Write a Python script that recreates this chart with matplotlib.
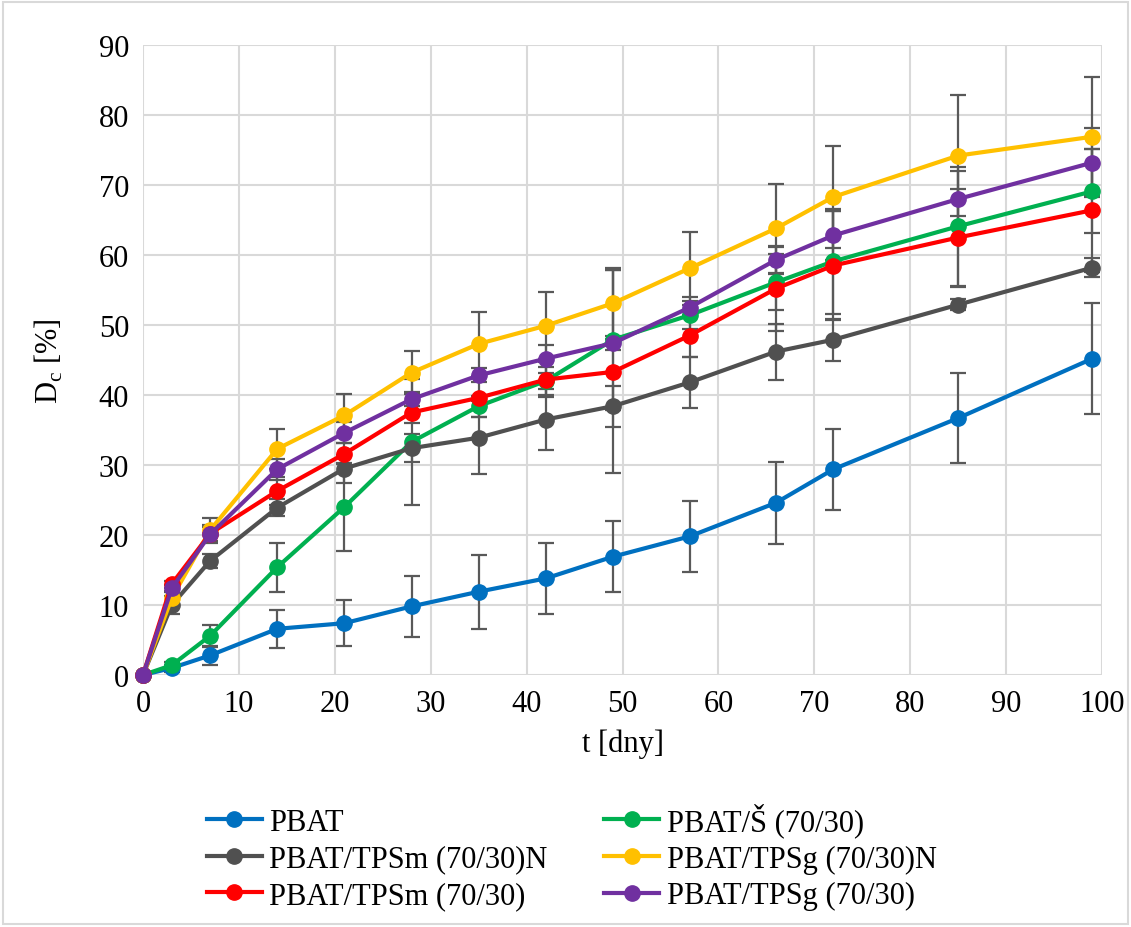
import matplotlib.pyplot as plt

plt.rcParams['font.family'] = ['Liberation Serif', 'DejaVu Serif']

# time [days]
t = [0, 3, 7, 14, 21, 28, 35, 42, 49, 57, 66, 72, 85, 99]

labels = ["PBAT", "PBAT/Š (70/30)", "PBAT/TPSm (70/30)N",
          "PBAT/TPSg (70/30)N", "PBAT/TPSm (70/30)", "PBAT/TPSg (70/30)"]
colors = ["#0070c0", "#00b050", "#505050", "#ffc000", "#ff0000", "#7030a0"]

pbat = [0, 1.0, 2.8, 6.6, 7.4, 9.8, 11.9, 13.8, 16.9, 19.8, 24.6, 29.4, 36.7, 45.2]
pbat_s = [0, 1.4, 5.6, 15.4, 24.0, 33.3, 38.4, 42.0, 47.9, 51.4, 56.1, 59.1, 64.1, 69.1]
tpsm_n = [0, 10.0, 16.3, 23.9, 29.5, 32.4, 33.9, 36.5, 38.4, 41.8, 46.2, 47.9, 52.9, 58.2]
tpsg_n = [0, 11.0, 20.7, 32.3, 37.1, 43.2, 47.3, 49.9, 53.1, 58.1, 63.8, 68.3, 74.2, 76.9]
tpsm = [0, 13.0, 20.2, 26.3, 31.6, 37.5, 39.6, 42.2, 43.3, 48.5, 55.2, 58.5, 62.5, 66.4]
tpsg = [0, 12.4, 20.1, 29.4, 34.6, 39.4, 42.8, 45.2, 47.4, 52.5, 59.3, 62.8, 68.0, 73.2]

# error bars (+/-)
err_pbat = [0, 0.5, 1.3, 2.7, 3.3, 4.4, 5.3, 5.1, 5.1, 5.1, 5.9, 5.8, 6.4, 7.9]
err_pbat_s = [0, 0.5, 1.6, 3.5, 6.3, 9.0, 1.5, 2.0, 10.0, 2.0, 4.0, 7.5, 8.5, 6.0]
err_tpsm_n = [0, 1.3, 1.0, 1.2, 2.0, 2.0, 5.2, 4.3, 2.9, 3.7, 4.0, 3.0, 0.8, 1.4]
err_tpsg_n = [0, 1.0, 1.8, 2.9, 3.0, 3.1, 4.6, 4.8, 5.1, 5.2, 6.3, 7.3, 8.6, 8.5]
err_tpsm = [0, 0.5, 1.2, 2.0, 1.5, 1.5, 2.8, 2.5, 14.5, 3.0, 6.0, 7.8, 7.0, 8.8]
err_tpsg = [0, 0.5, 1.0, 1.5, 1.5, 1.0, 1.0, 2.0, 1.0, 1.5, 2.0, 3.5, 4.0, 4.9]

series = [pbat, pbat_s, tpsm_n, tpsg_n, tpsm, tpsg]
errors = [err_pbat, err_pbat_s, err_tpsm_n, err_tpsg_n, err_tpsm, err_tpsg]

fig = plt.figure(figsize=(11.31, 9.28), dpi=100)
ax = fig.add_axes([143 / 1131, 1 - 676 / 928, (1102 - 143) / 1131, (676 - 46) / 928])

for y, e in zip(series, errors):
    ax.errorbar(t, y, yerr=e, fmt="none", ecolor="#595959", elinewidth=1.6,
                capsize=6, capthick=1.6, zorder=2)
handles = []
for y, c, lab in zip(series, colors, labels):
    h, = ax.plot(t, y, color=c, lw=3, marker="o", ms=11, label=lab, zorder=3,
                 clip_on=False)
    handles.append(h)

ax.set_xlim(0, 100)
ax.set_ylim(0, 90)
ax.set_xticks(range(0, 101, 10))
ax.set_yticks(range(0, 91, 10))
ax.grid(True, color="#d9d9d9", lw=1.5)
ax.set_axisbelow(True)
for s in ax.spines.values():
    s.set_visible(False)
ax.tick_params(length=0, labelsize=22, pad=10)

ax.set_xlabel("t [dny]", fontsize=22, labelpad=8)
ax.set_ylabel("D$_\\mathregular{c}$ [%]", fontsize=22, labelpad=24)

# legend fills column-wise -> reorder so rows read PBAT, PBAT/Š, ...
order = [0, 2, 4, 1, 3, 5]
ax.legend([handles[i] for i in order], [labels[i] for i in order],
          loc="upper center", bbox_to_anchor=(0.447, -0.158), ncol=2,
          frameon=False, fontsize=22, handlelength=1.8, columnspacing=1.85,
          labelspacing=0.25, handletextpad=0.25)

# light chart-area border
fig.patches.append(plt.Rectangle((0.003, 0.003), 0.994, 0.994, transform=fig.transFigure,
                                 fill=False, edgecolor="#d9d9d9", lw=1.5))

fig.savefig("out.png", dpi=100)
